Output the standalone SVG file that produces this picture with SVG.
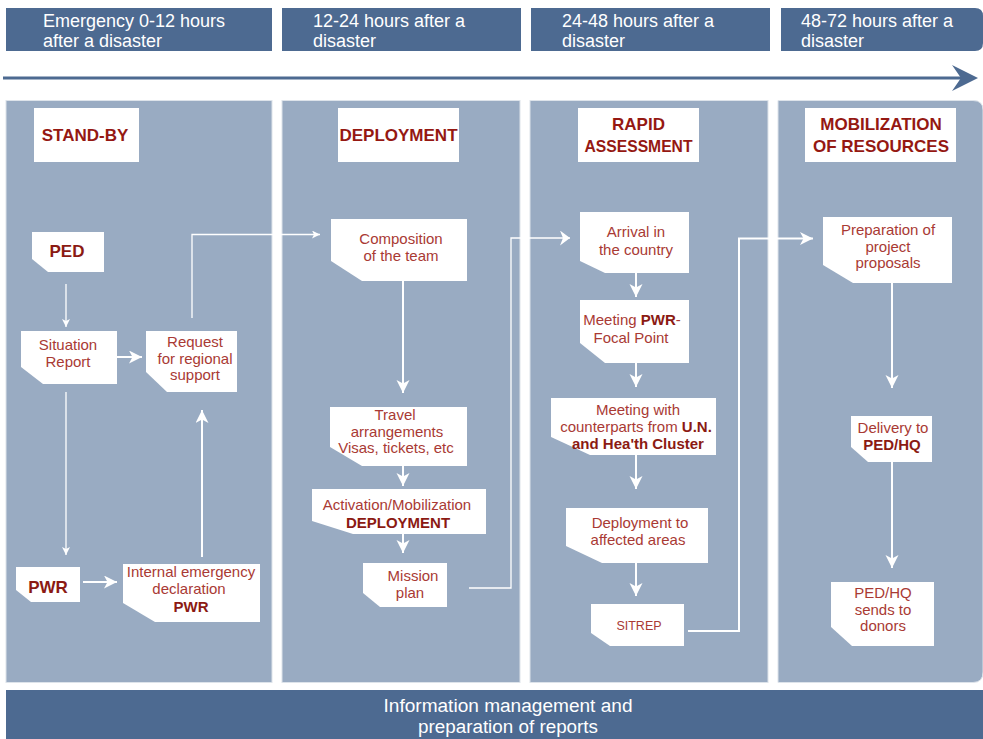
<svg xmlns="http://www.w3.org/2000/svg" width="983" height="739" viewBox="0 0 983 739">
<style>
.hdr{fill:#4d6a91}
.pnl{fill:#99abc2;stroke:#dde3ea;stroke-width:1}
.htxt{font-family:"Liberation Sans",Arial,sans-serif;font-size:18px;fill:#ffffff}
.ttl{fill:#ffffff}
.ttxt{font-family:"Liberation Sans",Arial,sans-serif;font-size:17px;font-weight:bold;fill:#951812;text-anchor:middle}
.node{fill:#ffffff}
.ntxt{font-family:"Liberation Sans",Arial,sans-serif;font-size:15px;fill:#a93a34;text-anchor:middle}
.b{font-weight:bold;fill:#8b1a13}
.big{font-family:"Liberation Sans",Arial,sans-serif;font-size:17px;font-weight:bold;fill:#8b1a13;text-anchor:middle}
.c{fill:none;stroke:#ffffff;stroke-width:2}
.ct{fill:none;stroke:#ffffff;stroke-width:1.3}
.btxt{font-family:"Liberation Sans",Arial,sans-serif;font-size:18px;fill:#ffffff;text-anchor:middle}
</style>
<defs>
<marker id="ah" markerUnits="userSpaceOnUse" markerWidth="16" markerHeight="16" refX="13" refY="6.5" orient="auto">
<path d="M0,0 L13,6.5 L0,13 L3.5,6.5 Z" fill="#ffffff"/>
</marker>
<marker id="am" markerUnits="userSpaceOnUse" markerWidth="14" markerHeight="16" refX="10" refY="7.5" orient="auto">
<path d="M0,0 L10,7.5 L0,15 L3,7.5 Z" fill="#ffffff"/>
</marker>
<marker id="as" markerUnits="userSpaceOnUse" markerWidth="10" markerHeight="10" refX="8" refY="4" orient="auto">
<path d="M0,0 L8,4 L0,8 L2,4 Z" fill="#ffffff"/>
</marker>
</defs>

<g id="headers">
<rect class="hdr" x="6" y="8" width="266" height="43"/>
<rect class="hdr" x="282" y="8" width="239" height="43"/>
<rect class="hdr" x="531" y="8" width="239" height="43"/>
<path class="hdr" d="M781,8 H975 Q983,8 983,16 V43 Q983,51 975,51 H781 Z"/>
<text class="htxt" x="43" y="27">Emergency 0-12 hours</text>
<text class="htxt" x="43" y="47">after a disaster</text>
<text class="htxt" x="313" y="27">12-24 hours after a</text>
<text class="htxt" x="313" y="47">disaster</text>
<text class="htxt" x="562" y="27">24-48 hours after a</text>
<text class="htxt" x="562" y="47">disaster</text>
<text class="htxt" x="801" y="27">48-72 hours after a</text>
<text class="htxt" x="801" y="47">disaster</text>
</g>

<g id="timeline">
<line x1="3" y1="78" x2="962" y2="78" stroke="#4d6a91" stroke-width="3"/>
<path d="M952,65 L978,78 L952,91 L961,78 Z" fill="#4d6a91"/>
</g>

<g id="panels">
<rect class="pnl" x="6" y="100.5" width="266" height="582"/>
<rect class="pnl" x="282" y="100.5" width="238" height="582"/>
<rect class="pnl" x="530" y="100.5" width="238" height="582"/>
<path class="pnl" d="M778,100.5 H973 Q983,100.5 983,110 V672 Q983,682.5 973,682.5 H778 Z"/>
</g>

<g id="titles">
<g id="t-standby"><rect class="ttl" x="34" y="108" width="105" height="54"/><text class="ttxt" x="85" y="141">STAND-BY</text></g>
<g id="t-deployment"><rect class="ttl" x="338" y="108" width="121" height="54"/><text class="ttxt" x="398.5" y="141">DEPLOYMENT</text></g>
<g id="t-rapid"><rect class="ttl" x="578" y="108" width="121" height="54"/><text class="ttxt" x="638.5" y="130">RAPID</text><text class="ttxt" x="638.5" y="152" textLength="108" lengthAdjust="spacingAndGlyphs">ASSESSMENT</text></g>
<g id="t-mobilization"><rect class="ttl" x="805" y="108" width="151" height="54"/><text class="ttxt" x="881" y="130">MOBILIZATION</text><text class="ttxt" x="881" y="152">OF RESOURCES</text></g>
</g>

<g id="connectors">
<line class="ct" x1="66" y1="284" x2="66" y2="327" marker-end="url(#as)"/>
<line class="c" x1="117" y1="357" x2="142" y2="357" marker-end="url(#ah)"/>
<line class="ct" x1="66" y1="392" x2="66" y2="555" marker-end="url(#as)"/>
<line class="c" x1="83" y1="582" x2="117" y2="582" marker-end="url(#ah)"/>
<line class="c" x1="202" y1="557" x2="202" y2="410" marker-end="url(#ah)"/>
<polyline class="ct" points="192,318 192,234.5 320,234.5" marker-end="url(#as)"/>
<line class="c" x1="403" y1="281" x2="403" y2="393" marker-end="url(#ah)"/>
<line class="c" x1="403" y1="466" x2="403" y2="486" marker-end="url(#ah)"/>
<line class="c" x1="403" y1="534" x2="403" y2="553" marker-end="url(#ah)"/>
<polyline class="ct" points="469,588 511,588 511,238 570,238" marker-end="url(#am)"/>
<line class="c" x1="636" y1="273" x2="636" y2="297" marker-end="url(#ah)"/>
<line class="c" x1="636" y1="363" x2="636" y2="387" marker-end="url(#ah)"/>
<line class="c" x1="636" y1="455" x2="636" y2="489" marker-end="url(#ah)"/>
<line class="c" x1="636" y1="563" x2="636" y2="596" marker-end="url(#ah)"/>
<polyline class="c" points="688,631 739,631 739,238.5 813,238.5" marker-end="url(#ah)"/>
<line class="c" x1="892" y1="283" x2="892" y2="388" marker-end="url(#ah)"/>
<line class="c" x1="892" y1="462" x2="892" y2="568" marker-end="url(#ah)"/>
</g>

<g id="n-ped"><path class="node" d="M32,232 H104 V272 H48 L32,259 Z"/><text class="big" x="67" y="257">PED</text></g>
<g id="n-situation"><path class="node" d="M21,331 H117 V384 H43 L21,367 Z"/><text class="ntxt" x="68" y="350">Situation</text><text class="ntxt" x="68" y="367">Report</text></g>
<g id="n-request"><path class="node" d="M146,331 H237 V392 H167 L146,372 Z"/><text class="ntxt" x="195" y="347">Request</text><text class="ntxt" x="195" y="363.5">for regional</text><text class="ntxt" x="195" y="380">support</text></g>
<g id="n-pwr"><path class="node" d="M16,567 H80 V602 H31 L16,590 Z"/><text class="big" x="48" y="593">PWR</text></g>
<g id="n-internal"><path class="node" d="M123,564 H260 V622 H155 L123,603 Z"/><text class="ntxt" x="191" y="577">Internal emergency</text><text class="ntxt" x="189" y="594">declaration</text><text class="ntxt b" x="191" y="612">PWR</text></g>

<g id="n-composition"><path class="node" d="M331,219 H467 V281 H362 L331,261 Z"/><text class="ntxt" x="401" y="244">Composition</text><text class="ntxt" x="401" y="261">of the team</text></g>
<g id="n-travel"><path class="node" d="M330,407 H467 V466 H362 L330,447 Z"/><text class="ntxt" x="395" y="420">Travel</text><text class="ntxt" x="397" y="436.5">arrangements</text><text class="ntxt" x="396" y="453">Visas, tickets, etc</text></g>
<g id="n-activation"><path class="node" d="M312,489 H486 V534 H353 L312,521 Z"/><text class="ntxt" x="397" y="510">Activation/Mobilization</text><text class="ntxt b" x="398" y="528">DEPLOYMENT</text></g>
<g id="n-mission"><path class="node" d="M363,563 H447 V607 H380 L363,593 Z"/><text class="ntxt" x="413" y="581">Mission</text><text class="ntxt" x="410" y="598">plan</text></g>

<g id="n-arrival"><path class="node" d="M580,212 H689 V273 H605 L580,261 Z"/><text class="ntxt" x="636" y="237">Arrival in</text><text class="ntxt" x="636" y="255">the country</text></g>
<g id="n-meeting-pwr"><path class="node" d="M580,300 H689 V363 H605 L580,343 Z"/><text class="ntxt" x="632" y="325">Meeting <tspan class="b">PWR</tspan>-</text><text class="ntxt" x="631" y="343">Focal Point</text></g>
<g id="n-counterparts"><path class="node" d="M551,398 H716 V455 H590 L551,437 Z"/><text class="ntxt" x="638" y="414.5">Meeting with</text><text class="ntxt" x="636" y="432">counterparts from <tspan class="b">U.N.</tspan></text><text class="ntxt b" x="638" y="449">and Hea'th Cluster</text></g>
<g id="n-deploy-areas"><path class="node" d="M566,508 H708 V563 H602 L566,546 Z"/><text class="ntxt" x="640" y="528">Deployment to</text><text class="ntxt" x="638" y="544.5">affected areas</text></g>
<g id="n-sitrep"><path class="node" d="M591,604 H684 V646 H610 L591,633 Z"/><text class="ntxt" x="639" y="630" style="font-size:12.5px">SITREP</text></g>

<g id="n-preparation"><path class="node" d="M823,217 H952 V283 H853 L823,265 Z"/><text class="ntxt" x="888" y="235">Preparation of</text><text class="ntxt" x="888" y="251.5">project</text><text class="ntxt" x="888" y="268">proposals</text></g>
<g id="n-delivery"><path class="node" d="M851,416 H932 V462 H868 L851,447 Z"/><text class="ntxt" x="893" y="433">Delivery to</text><text class="ntxt b" x="892" y="450">PED/HQ</text></g>
<g id="n-pedhq"><path class="node" d="M831,582 H934 V646 H852 L831,627 Z"/><text class="ntxt" x="883" y="598">PED/HQ</text><text class="ntxt" x="883" y="614.5">sends to</text><text class="ntxt" x="883" y="631">donors</text></g>

<g id="bottom">
<rect class="hdr" x="6" y="690" width="977" height="49"/>
<text class="btxt" x="508" y="712" textLength="249" lengthAdjust="spacingAndGlyphs">Information management and</text>
<text class="btxt" x="508" y="733" textLength="180" lengthAdjust="spacingAndGlyphs">preparation of reports</text>
</g>
</svg>
